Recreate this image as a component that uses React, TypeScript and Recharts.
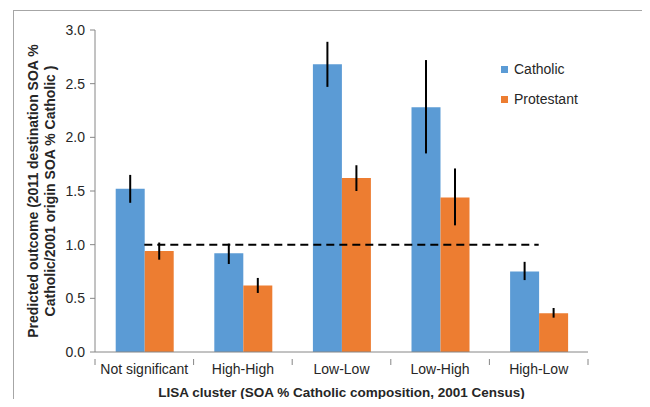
import React from "react";
import {
  BarChart,
  Bar,
  XAxis,
  YAxis,
  ErrorBar,
  ReferenceLine,
  Label,
} from "recharts";

const clusters = ["Not significant", "High-High", "Low-Low", "Low-High", "High-Low"];
const catholic = [1.52, 0.92, 2.68, 2.28, 0.75];
const catholicErr = [[0.13, 0.13], [0.1, 0.09], [0.21, 0.21], [0.43, 0.44], [0.08, 0.09]];
const protestant = [0.94, 0.62, 1.62, 1.44, 0.36];
const protestantErr = [[0.08, 0.08], [0.07, 0.07], [0.12, 0.12], [0.26, 0.27], [0.04, 0.05]];
const yTicks = [0, 0.5, 1, 1.5, 2, 2.5, 3];

const BLUE = "#5B9BD5";
const ORANGE = "#ED7D31";
const AXIS = "#868686";
const INK = "#262626";
const FONT = "'Liberation Sans', Arial, sans-serif";

const data = clusters.map((name, i) => ({
  name,
  catholic: catholic[i],
  cErr: catholicErr[i],
  protestant: protestant[i],
  pErr: protestantErr[i],
}));

// category ticks sit on the band boundaries, labels in the middle
function ClusterTick(props: any) {
  const { x, y, payload, index } = props;
  const half = 98.6 / 2;
  return (
    <g>
      <line x1={x - half} x2={x - half} y1={y - 1} y2={y + 5} stroke={AXIS} />
      {index === clusters.length - 1 && (
        <line x1={x + half} x2={x + half} y1={y - 1} y2={y + 5} stroke={AXIS} />
      )}
      <text x={x} y={y + 14} textAnchor="middle" fontSize={14} fill={INK} fontFamily={FONT}>
        {payload.value}
      </text>
    </g>
  );
}

function YTitle() {
  return (
    <text
      transform="translate(42, 191) rotate(-90)"
      textAnchor="middle"
      fontSize={14}
      fontWeight="bold"
      fill={INK}
      fontFamily={FONT}
    >
      <tspan x={0} dy={-4}>Predicted outcome (2011 destination SOA %</tspan>
      <tspan x={0} dy={17}>Catholic/2001 origin SOA % Catholic )</tspan>
    </text>
  );
}

export default function App() {
  return (
    <div style={{ position: "relative", margin: -8, width: 650, height: 407, background: "#fff", overflow: "hidden" }}>
      <div
        style={{
          position: "absolute",
          left: 13,
          top: 10,
          width: 632,
          height: 410,
          border: "1px solid #a6a6a6",
          boxSizing: "border-box",
        }}
      />
      <BarChart
        width={650}
        height={407}
        data={data}
        margin={{ top: 30, right: 62, bottom: 15, left: 35 }}
        barCategoryGap="21%"
        barGap={0}
        style={{ position: "absolute", left: 0, top: 0 }}
      >
        <XAxis
          dataKey="name"
          stroke={AXIS}
          tickLine={false}
          tick={<ClusterTick />}
          height={40}
          interval={0}
        >
          <Label
            value="LISA cluster (SOA % Catholic composition, 2001 Census)"
            position="insideBottom"
            offset={-5}
            style={{ fontSize: 13.5, fontWeight: "bold", fill: INK, fontFamily: FONT }}
          />
        </XAxis>
        <YAxis
          domain={[0, 3]}
          ticks={yTicks}
          width={60}
          stroke={AXIS}
          tickSize={5}
          tickMargin={5}
          tickFormatter={(v: number) => v.toFixed(1)}
          tick={{ fontSize: 14, fill: INK, fontFamily: FONT }}
          label={<YTitle />}
        />
        <Bar dataKey="catholic" fill={BLUE} isAnimationActive={false}>
          <ErrorBar dataKey="cErr" width={0} stroke="#000" strokeWidth={2} direction="y" />
        </Bar>
        <Bar dataKey="protestant" fill={ORANGE} isAnimationActive={false}>
          <ErrorBar dataKey="pErr" width={0} stroke="#000" strokeWidth={2} direction="y" />
        </Bar>
        <ReferenceLine
          segment={[
            { x: clusters[0], y: 1 },
            { x: clusters[clusters.length - 1], y: 1 },
          ]}
          stroke="#000"
          strokeWidth={2}
          strokeDasharray="8 5"
        />
      </BarChart>
      <div style={{ position: "absolute", left: 501, top: 59, fontFamily: FONT, fontSize: 14, color: INK }}>
        <div style={{ display: "flex", alignItems: "center", height: 20 }}>
          <span style={{ width: 7, height: 7, background: BLUE, marginRight: 6 }} />
          Catholic
        </div>
        <div style={{ display: "flex", alignItems: "center", height: 20, marginTop: 10 }}>
          <span style={{ width: 7, height: 7, background: ORANGE, marginRight: 6 }} />
          Protestant
        </div>
      </div>
    </div>
  );
}
